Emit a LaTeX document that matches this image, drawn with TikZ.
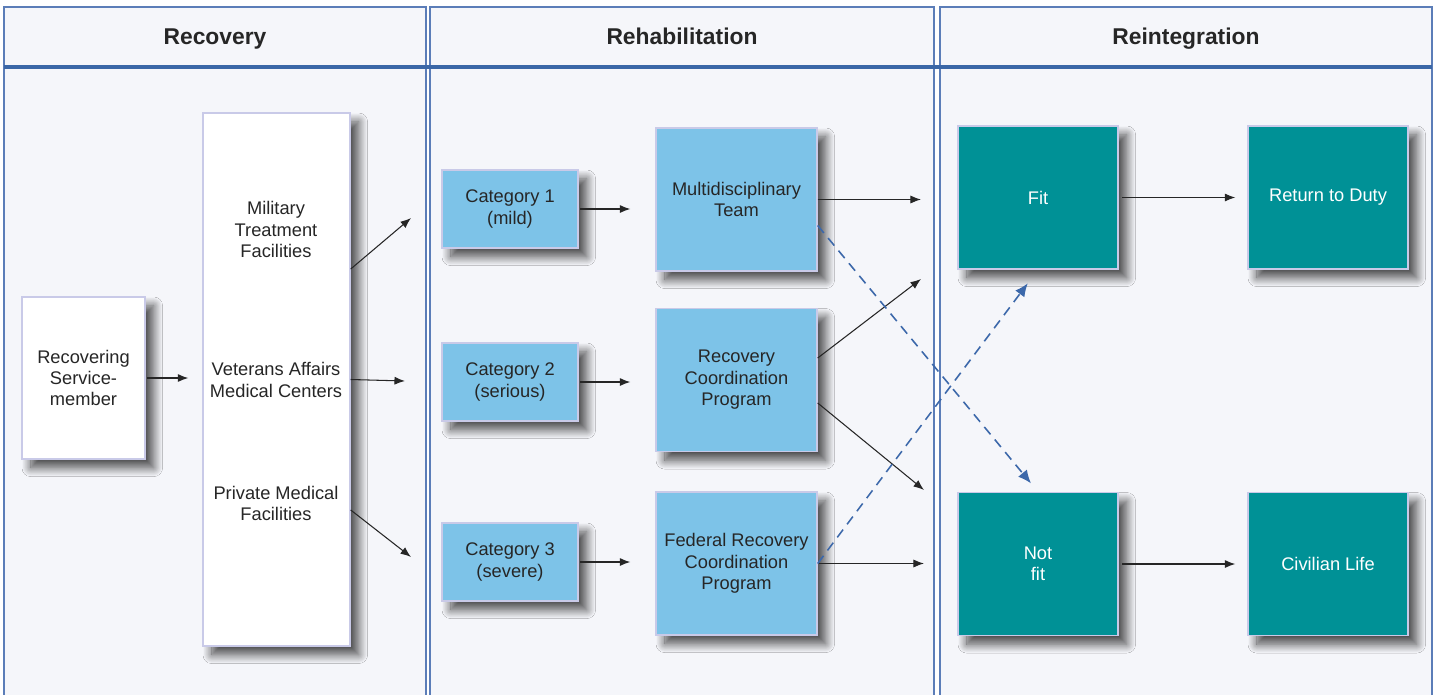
\documentclass[tikz,border=0pt]{standalone}
\usepackage{fontspec}
\setmainfont{Liberation Sans}
\usepackage{xcolor}
\usepackage{tikz}
\usetikzlibrary{calc}
\usetikzlibrary{positioning}
\usetikzlibrary{arrows.meta}
\usetikzlibrary{shadows,shadows.blur}
\definecolor{panelfill}{HTML}{F5F6FA}
\definecolor{panelline}{HTML}{5B7DB8}
\definecolor{headline}{HTML}{3B67A7}
\definecolor{lightblue}{HTML}{7DC3E8}
\definecolor{boxline}{HTML}{C9CAE8}
\definecolor{teal}{HTML}{009196}
\definecolor{textgray}{HTML}{262626}
\definecolor{dashblue}{HTML}{3C68AA}

\begin{document}
\begin{tikzpicture}[x=0.02cm,y=-0.02cm,
    font=\fontsize{10.4}{12.2}\selectfont,
    box/.style={draw=boxline,line width=0.8pt,align=center,text=textgray,inner sep=1pt,
      blur shadow={shadow xshift=5pt,shadow yshift=-5pt,shadow blur radius=5pt,shadow blur steps=16,shadow opacity=70,shadow blur extra rounding=0pt}},
    whitebox/.style={box,fill=white},
    catbox/.style={box,fill=lightblue,minimum width=2.72cm,minimum height=1.56cm},
    progbox/.style={box,fill=lightblue,minimum width=3.22cm,minimum height=2.86cm},
    tealbox/.style={box,fill=teal,text=white,minimum width=3.2cm,minimum height=2.86cm},
    txt/.style={align=center,text=textgray,inner sep=0pt},
    arr/.style={-{Latex[length=6pt,width=4.6pt]},line width=0.6pt,draw=textgray},
    dasharr/.style={-{Latex[length=7.5pt,width=6.5pt]},line width=0.9pt,draw=dashblue,dash pattern=on 5.5pt off 3.8pt}]
  \useasboundingbox (0,0) rectangle (1438,694);
  \fill[white] (0,0) rectangle (1438,694);
  % the three panels
  \foreach \l/\r/\t in {4/426/Recovery,430/934/Rehabilitation,940/1432/Reintegration}
  {
    \filldraw[fill=panelfill,draw=panelline,line width=0.7pt] (\l,700) -- (\l,7) -- (\r,7) -- (\r,700);
    \node[anchor=base,font=\fontsize{13}{15}\selectfont\bfseries,text=textgray] at ({(\l+\r)/2},44) {\t};
  }
  \draw[headline,line width=2.3pt] (4,67) -- (1432,67);

  % recovery
  \node[whitebox,minimum width=2.46cm,minimum height=3.24cm] (svc) at (83.5,378) {Recovering\\Service-\\member};
  \node[whitebox,minimum width=2.94cm,minimum height=10.66cm] (fac) at (276.5,379.5) {};
  \node[txt] (mtf) at (276,229.5) {Military\\Treatment\\Facilities};
  \node[txt] (vamc) at (276,380) {Veterans Affairs\\Medical Centers};
  \node[txt] (pmf) at (276,503.5) {Private Medical\\Facilities};

  % rehabilitation
  \node[catbox] (cat1) at (510,209) {Category 1\\(mild)};
  \node[catbox] (cat2) at (510,382) {Category 2\\(serious)};
  \node[catbox] (cat3) at (510,562) {Category 3\\(severe)};
  \node[progbox] (mdt) at (736.5,199.5) {Multidisciplinary\\Team};
  \node[progbox] (rcp) at (736.5,380) {Recovery\\Coordination\\Program};
  \node[progbox] (frcp) at (736.5,563.5) {Federal Recovery\\Coordination\\Program};

  % reintegration
  \node[tealbox] (fit) at (1038,197.5) {Fit};
  \node[tealbox] (notfit) at (1038,564) {Not\\fit};
  \node[tealbox] (duty) at (1328,197.5) {Return to Duty};
  \node[tealbox] (civil) at (1328,564) {Civilian Life};

  % free arrow ends
  \coordinate (o1) at (411,218);
  \coordinate (o2) at (405,381);
  \coordinate (o3) at (411,557);
  \coordinate (m1) at (921,199.5);
  \coordinate (r1) at (921,279);
  \coordinate (r2) at (924,490);
  \coordinate (f1) at (924,563.5);

  \draw[arr,shorten <=1pt,shorten >=0.28cm] (svc.east) -- (svc.east -| fac.west);
  \draw[arr] ([yshift=2.21cm]fac.east) -- (o1);
  \draw[arr] (fac.east) -- (o2);
  \draw[arr] ([yshift=-2.61cm]fac.east) -- (o3);
  \foreach \c/\p in {cat1/mdt,cat2/rcp,cat3/frcp}
    \draw[arr,shorten <=1pt,shorten >=0.5cm] (\c.east) -- (\c.east -| \p.west);
  \draw[arr] (mdt.east) -- (m1);
  \draw[arr] ([yshift=0.44cm]rcp.east) -- (r1);
  \draw[arr] ([yshift=-0.46cm]rcp.east) -- (r2);
  \draw[arr] (frcp.east) -- (f1);
  \draw[dasharr,shorten >=0.22cm] ([yshift=-0.52cm]mdt.east) -- (notfit.north);
  \draw[dasharr,shorten >=0.34cm] (frcp.east) -- (fit.south);
  \draw[arr,shorten <=2pt,shorten >=0.24cm] (fit.east) -- (duty.west);
  \draw[arr,shorten <=2pt,shorten >=0.24cm] (notfit.east) -- (civil.west);
\end{tikzpicture}
\end{document}
